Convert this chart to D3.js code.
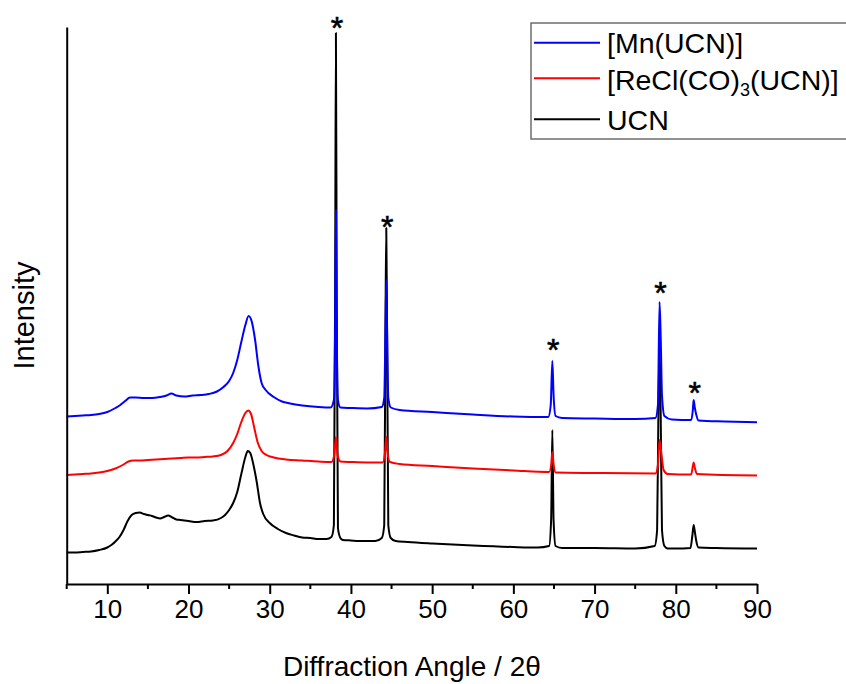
<!DOCTYPE html>
<html>
<head>
<meta charset="utf-8">
<script src="https://cdn.jsdelivr.net/npm/d3@7"></script>
<style>
  html, body { margin: 0; padding: 0; background: #fff; }
  svg { display: block; font-family: "Liberation Sans", Arial, sans-serif; }
</style>
</head>
<body>
<svg id="chart" width="846" height="684"></svg>
<script>
// XRD patterns, [2θ, intensity (a.u., stacked)]
const ucn = [
  [5,315],[6,315],[7,320],[8,325],[9,340],[10,365],[10.5,390],[11,425],[11.5,470],[12,540],
  [12.5,630],[13,690],[13.5,710],[14,715],[14.5,700],[15,690],[15.5,680],[16,665],[16.5,655],
  [17,670],[17.5,685],[18,665],[18.5,645],[19,640],[20,630],[21,620],[22,630],[23,635],[24,660],
  [24.5,690],[25,740],[25.5,810],[26,920],[26.5,1100],[27,1270],[27.3,1330],[27.6,1310],[28,1190],
  [28.4,1020],[28.8,810],[29.2,700],[30,610],[31,550],[32,510],[33,485],[34,465],[35,460],[36,450],
  [37,450],[37.6,470],[37.9,590],[38.05,2840],[38.15,5510],[38.25,2840],[38.4,560],[38.7,460],
  [39,440],[40,435],[41,430],[43,430],[43.8,460],[44.1,590],[44.25,2540],[44.35,3560],[44.45,2540],
  [44.6,590],[44.9,460],[45.5,430],[47,420],[50,405],[55,385],[60,370],[63,365],[64.4,380],
  [64.65,640],[64.8,1540],[64.95,640],[65.2,380],[66,360],[70,360],[75,355],[77.4,380],[77.7,540],
  [77.85,1640],[78,2390],[78.15,1640],[78.3,540],[78.6,380],[79,355],[80,355],[81.8,360],
  [82.05,490],[82.2,590],[82.35,520],[82.5,440],[82.8,365],[85,360],[90,355]
];

const reClCO3 = [
  [5,1090],[6,1095],[7,1100],[8,1105],[9,1115],[10,1130],[11,1155],[12,1195],[12.6,1225],
  [13.2,1235],[14,1235],[15,1240],[16,1245],[17,1250],[18,1255],[19,1260],[20,1265],[21,1265],
  [22,1270],[23,1275],[24,1290],[24.8,1330],[25.5,1410],[26,1500],[26.5,1620],[27,1710],
  [27.35,1735],[27.7,1700],[28.1,1560],[28.5,1420],[29,1330],[29.6,1290],[30.5,1265],[32,1245],
  [34,1235],[36,1225],[37.6,1220],[37.95,1290],[38.15,1470],[38.35,1290],[38.7,1225],[40,1220],
  [42,1215],[43.9,1215],[44.2,1320],[44.35,1470],[44.5,1320],[44.8,1220],[46,1200],[50,1180],
  [55,1155],[60,1135],[64.4,1120],[64.7,1220],[64.8,1320],[64.95,1200],[65.2,1115],[70,1110],
  [77.5,1105],[77.8,1190],[78,1440],[78.2,1320],[78.5,1140],[79,1100],[81.9,1095],[82.1,1180],
  [82.2,1215],[82.35,1160],[82.6,1100],[90,1085]
];

const mnUcn = [
  [5,1675],[6,1680],[7,1685],[8,1690],[9,1700],[10,1720],[11,1760],[11.6,1790],[12.2,1830],
  [12.8,1865],[13.5,1865],[14.5,1860],[15.5,1860],[16.5,1870],[17.3,1885],[17.9,1905],[18.5,1885],
  [19.5,1875],[20.5,1885],[21.5,1890],[22.5,1900],[23.5,1925],[24.3,1970],[25,2030],[25.5,2110],
  [26,2240],[26.5,2420],[27,2590],[27.4,2680],[27.8,2620],[28.2,2440],[28.6,2180],[29,2010],
  [29.5,1940],[30.5,1870],[31.5,1825],[32.5,1805],[34,1785],[36,1770],[37.5,1765],[37.9,1840],
  [38.05,2540],[38.15,3740],[38.25,2540],[38.4,1840],[38.7,1765],[40,1760],[42,1755],[43.8,1770],
  [44.1,1860],[44.25,2540],[44.35,3040],[44.45,2540],[44.6,1860],[44.9,1765],[46,1740],[50,1720],
  [55,1695],[60,1675],[64.3,1670],[64.6,1790],[64.8,2230],[64.95,1890],[65.2,1680],[66,1660],
  [70,1655],[75,1650],[77.5,1660],[77.8,1790],[78,2820],[78.15,2440],[78.3,1890],[78.6,1680],
  [79.5,1645],[81.9,1640],[82.1,1740],[82.2,1840],[82.35,1760],[82.5,1700],[82.8,1635],[86,1625],
  [90,1617]
];

// reflections marked with an asterisk (2θ, intensity of marker)
const starAngles = [38.15, 44.35, 64.8, 78.0, 82.2];
const starLevels = [5640, 3650, 2420, 2990, 1990];

const xTicks = [10, 20, 30, 40, 50, 60, 70, 80, 90];
const xMinorTicks = [5, 15, 25, 35, 45, 55, 65, 75, 85];

const seriesNames = ["UCN", "[ReCl(CO)3(UCN)]", "[Mn(UCN)]"];
const seriesColors = ["#000000", "#ff0000", "#0000ff"];
const seriesData = [ucn, reClCO3, mnUcn];

const svg = d3.select("#chart");
const plot = { left: 66.7, right: 757, top: 27, bottom: 584 };

const x = d3.scaleLinear().domain([5, 90]).range([plot.left, plot.right]);
const y = d3.scaleLinear().domain([0, 5570]).range([plot.bottom, plot.top]);

// pattern traces: UCN first, Mn(UCN) last on top
const line = d3.line()
  .x(d => x(d[0]))
  .y(d => y(d[1]))
  .curve(d3.curveMonotoneX);

svg.append("g")
  .selectAll("path")
  .data(seriesData)
  .join("path")
  .attr("d", line)
  .attr("fill", "none")
  .attr("stroke", (d, i) => seriesColors[i])
  .attr("stroke-width", 2)
  .attr("stroke-linejoin", "round");

// asterisks
svg.append("g")
  .selectAll("text")
  .data(starAngles)
  .join("text")
  .attr("x", d => x(d) + 1)
  .attr("y", (d, i) => y(starLevels[i]) + 19)
  .attr("text-anchor", "middle")
  .attr("font-size", 32)
  .attr("fill", "#000")
  .attr("stroke", "#000")
  .attr("stroke-width", 0.6)
  .text("*");

// x axis
const xAxis = d3.axisBottom(x)
  .tickValues(xTicks)
  .tickSize(10)
  .tickSizeOuter(0)
  .tickPadding(6)
  .tickFormat(d3.format("d"));

const gx = svg.append("g")
  .attr("transform", `translate(0,${plot.bottom})`)
  .call(xAxis);
gx.select(".domain").attr("stroke", "#000").attr("stroke-width", 2);
gx.selectAll(".tick line").attr("stroke", "#000").attr("stroke-width", 2);
gx.selectAll(".tick text")
  .attr("font-size", 26)
  .attr("font-family", "'Liberation Sans', Arial, sans-serif")
  .attr("fill", "#000");

gx.selectAll(".minor")
  .data(xMinorTicks)
  .join("line")
  .attr("class", "minor")
  .attr("x1", d => x(d)).attr("x2", d => x(d))
  .attr("y1", 0).attr("y2", 5)
  .attr("stroke", "#000")
  .attr("stroke-width", 2);

// y axis (no ticks)
const yAxis = d3.axisLeft(y).tickValues([]).tickSizeOuter(0);
const gy = svg.append("g")
  .attr("transform", `translate(${plot.left},0)`)
  .call(yAxis);
gy.select(".domain").attr("stroke", "#000").attr("stroke-width", 2);

// axis titles
svg.append("text")
  .attr("x", (plot.left + plot.right) / 2)
  .attr("y", 676)
  .attr("text-anchor", "middle")
  .attr("font-size", 28)
  .attr("fill", "#000")
  .text("Diffraction Angle / 2θ");

svg.append("text")
  .attr("transform", `translate(34,${(plot.top + plot.bottom) / 2 + 10}) rotate(-90)`)
  .attr("text-anchor", "middle")
  .attr("font-size", 29)
  .attr("fill", "#000")
  .text("Intensity");

// legend
const legend = svg.append("g");
legend.append("rect")
  .attr("x", 531).attr("y", 23)
  .attr("width", 330).attr("height", 116)
  .attr("fill", "#fff")
  .attr("stroke", "#6e6e6e")
  .attr("stroke-width", 1.5);

const legendRows = [
  { name: seriesNames[2], color: seriesColors[2], ly: 42.7, ty: 53 },
  { name: seriesNames[1], color: seriesColors[1], ly: 78.3, ty: 89.5 },
  { name: seriesNames[0], color: seriesColors[0], ly: 119.3, ty: 129.5 }
];

legendRows.forEach(r => {
  legend.append("line")
    .attr("x1", 534).attr("x2", 600)
    .attr("y1", r.ly).attr("y2", r.ly)
    .attr("stroke", r.color)
    .attr("stroke-width", 2);
  const t = legend.append("text")
    .attr("x", 607).attr("y", r.ty)
    .attr("font-size", 28.5)
    .attr("fill", "#000");
  // chemical subscript: a digit right after ")" is drawn lowered and smaller
  const m = r.name.match(/^(.*\))(\d)(.*)$/);
  if (m) {
    t.append("tspan").text(m[1]);
    t.append("tspan").attr("font-size", 18).attr("dy", 6).text(m[2]);
    t.append("tspan").attr("dy", -6).text(m[3]);
  } else {
    t.text(r.name);
  }
});
</script>
</body>
</html>
